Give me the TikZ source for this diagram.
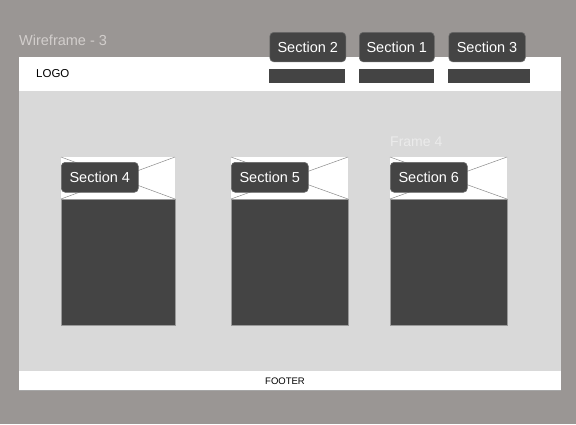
\documentclass[tikz,border=0pt]{standalone}
\usepackage{fontspec}
\setmainfont{Liberation Sans}
\definecolor{bgc}{HTML}{9A9694}
\definecolor{contentc}{HTML}{D9D9D9}
\definecolor{darkc}{HTML}{444444}
\definecolor{titlec}{HTML}{D2CECC}
\definecolor{framec}{HTML}{EBEBEB}
\definecolor{crossc}{HTML}{8A8A8A}
\tikzset{
  btn/.style={fill=darkc, draw=darkc!80!white, line width=0.6pt, rounded corners=4pt, inner sep=0pt,
    text=white, font=\fontsize{14.5}{16}\selectfont, anchor=north west},
  bar/.style={fill=darkc},
  imgbox/.style={fill=white},
  cross/.style={draw=crossc, line width=0.5pt},
  cardbody/.style={fill=darkc, draw=gray!80, line width=0.5pt},
}
\begin{document}
\begin{tikzpicture}[x=1pt,y=-1pt]
\useasboundingbox (0,0) rectangle (576,424);
\fill[bgc] (0,0) rectangle (576,424);
% frame
\fill[white] (19,57) rectangle (561,91);
\fill[contentc] (19,91) rectangle (561,371);
\fill[white] (19,371) rectangle (561,390);
\draw[gray!70, line width=0.4pt] (19,390) -- (561,390);
\node[anchor=west, text=titlec, font=\fontsize{14.5}{16}\selectfont, inner sep=0pt] (title) at (19,40) {Wireframe - 3};
\node[anchor=west, font=\fontsize{11.5}{13}\selectfont, inner sep=0pt] (logo) at (36,73.5) {LOGO};
\node[font=\fontsize{9.5}{11}\selectfont, inner sep=0pt] (footer) at (285,381) {FOOTER};
% nav bars
\fill[bar] (269,69) rectangle (345,83);
\fill[bar] (359,69) rectangle (434,83);
\fill[bar] (448,69) rectangle (530,83);
% nav buttons
\node[btn, minimum width=76pt, minimum height=29.5pt] (s2) at (269.5,32) {Section 2};
\node[btn, minimum width=75pt, minimum height=29.5pt] (s1) at (359,32) {Section 1};
\node[btn, minimum width=76.5pt, minimum height=29.5pt] (s3) at (448.5,32) {Section 3};
% Frame 4 label
\node[anchor=west, text=framec, font=\fontsize{14}{16}\selectfont, inner sep=0pt] (f4) at (390,141.5) {Frame 4};
% cards
\foreach \x/\w/\n/\lab in {61/114/c4/Section 4, 231/117/c5/Section 5, 390/117/c6/Section 6}{
  \fill[imgbox] (\x,157) rectangle (\x+\w,199);
  \draw[cross] (\x,157) -- (\x+\w,199);
  \draw[cross] (\x,199) -- (\x+\w,157);
  \draw[cardbody] (\x,199) rectangle (\x+\w,325);
  \node[btn, minimum width=77pt, minimum height=30pt] (\n) at (\x,162) {\lab};
}
\end{tikzpicture}
\end{document}
